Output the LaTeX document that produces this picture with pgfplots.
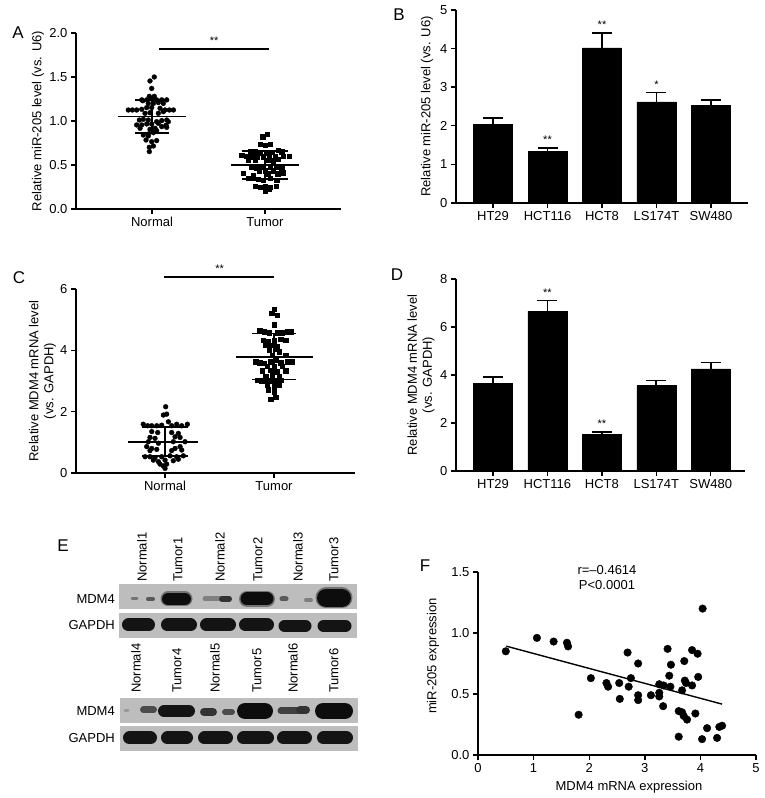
\documentclass[border=0pt]{standalone}
\usepackage{pgfplots}
\pgfplotsset{compat=1.18}
\usepackage{fontspec}
\setmainfont{Liberation Sans}
\newcommand{\fs}{\fontsize{13}{15}\selectfont}
\newcommand{\ls}{\fontsize{17}{20}\selectfont}
\tikzset{sigstar/.style={font=\fontsize{11}{12}\selectfont, anchor=south, inner sep=0pt, yshift=4pt}}
\pgfplotsset{
  panel/.style={
    scale only axis, anchor=south west, axis lines=left,
    axis line style={-, line width=1.4pt, black},
    tick align=outside, major tick length=5pt, tick style={line width=1.4pt, black},
    enlargelimits=false, clip=false,
    tick label style={font=\fs}, label style={font=\fs, align=center},
    /pgf/number format/assume math mode=true,
  },
  onedec/.style={yticklabel style={/pgf/number format/.cd, fixed, fixed zerofill, precision=1}},
  ebar/.style={ybar, bar width=39pt, bar shift=0pt, fill=black, draw=black,
    error bars/.cd, y dir=plus, y explicit,
    error bar style={line width=1.6pt, black},
    error mark options={rotate=90, line width=1.6pt, mark size=10pt, black}},
  stat/.style={black, line width=1.7pt, no marks, forget plot},
  band/.style={line cap=round, no marks, forget plot},
}
\begin{document}
\begin{tikzpicture}
\path[use as bounding box] (0pt,0pt) rectangle (765pt,798pt);

% ---------------- Panel A ----------------
\begin{axis}[panel, onedec, at={(76pt,589pt)}, width=265pt, height=176pt,
  xmin=0.327, xmax=2.673, ymin=0, ymax=2, xtick={1,2}, xticklabels={Normal,Tumor},
  ytick={0,0.5,1,1.5,2},
  ylabel={Relative miR-205 level (vs. U6)},
  ylabel style={at={(axis description cs:-0.143,0.5)}, anchor=center}]
\addplot[only marks, mark=*, mark size=2.4pt, black] coordinates {
(1.02,1.50)(0.982,1.455)(0.997,1.37)(0.976,1.28)(1.02,1.28)
(0.909,1.24)(0.918,1.23)(0.953,1.24)(0.997,1.25)(1.041,1.24)(1.086,1.24)(1.13,1.24)
(0.967,1.20)(1.012,1.20)(1.056,1.21)(1.10,1.20)
(0.79,1.125)(0.826,1.125)(0.864,1.125)(0.909,1.133)(0.953,1.152)(0.997,1.152)(1.071,1.144)(1.115,1.125)(1.153,1.125)(1.189,1.125)
(0.938,1.087)(0.982,1.094)(1.056,1.087)(1.10,1.106)
(0.888,1.011)(0.923,1.019)(0.967,1.011)(1.041,0.992)(1.086,1.004)(1.13,1.011)
(0.864,0.955)(0.909,0.955)(0.953,0.966)(0.997,0.966)(1.056,0.973)(1.124,0.951)(1.144,0.992)
(0.894,0.917)(0.982,0.905)(1.027,0.917)(1.086,0.936)(1.13,0.928)
(0.923,0.841)(0.967,0.852)(1.012,0.867)(1.041,0.89)
(0.947,0.784)(0.997,0.765)(1.041,0.777)(0.967,0.83)
(1.012,0.716)(0.976,0.701)(0.976,0.652)};
\addplot[only marks, mark=square*, mark size=2.2pt, black] coordinates {
(2.021,0.852)(1.98,0.822)
(1.956,0.735)(2.0,0.727)(2.044,0.735)
(1.867,0.651)(1.912,0.651)(1.956,0.640)(2.009,0.633)(2.059,0.645)(2.118,0.670)(2.147,0.651)
(1.794,0.614)(1.832,0.602)(1.882,0.595)(1.927,0.595)(1.985,0.595)(2.038,0.595)(2.088,0.595)(2.162,0.602)(2.215,0.602)
(1.852,0.557)(1.912,0.557)(2.029,0.557)(2.118,0.564)(2.074,0.550)
(1.882,0.473)(1.927,0.462)(1.98,0.473)(2.044,0.473)(2.097,0.473)(2.147,0.462)
(1.95,0.436)(2.0,0.436)(2.074,0.436)
(1.808,0.405)(1.897,0.386)(2.029,0.40)(2.112,0.40)(2.162,0.413)
(1.852,0.348)(1.891,0.348)(1.941,0.340)(1.985,0.330)(2.044,0.348)(2.103,0.330)
(1.912,0.261)(1.956,0.246)(2.0,0.261)(2.044,0.246)(2.097,0.261)
(2.0,0.205)(2.038,0.223)};
\addplot[stat] coordinates {(0.70,1.05)(1.30,1.05)};
\addplot[stat] coordinates {(0.85,1.24)(1.15,1.24)};
\addplot[stat] coordinates {(0.85,0.86)(1.15,0.86)};
\addplot[stat] coordinates {(1,0.86)(1,1.24)};
\addplot[stat] coordinates {(1.70,0.50)(2.30,0.50)};
\addplot[stat] coordinates {(1.80,0.66)(2.20,0.66)};
\addplot[stat] coordinates {(1.80,0.34)(2.20,0.34)};
\addplot[stat] coordinates {(2,0.34)(2,0.66)};
\addplot[stat, line width=2pt] coordinates {(1.06,1.82)(2.035,1.82)};
\node[sigstar] at (axis cs:1.55,1.82) {**};
\end{axis}

% ---------------- Panel B ----------------
\begin{axis}[panel, at={(456pt,595pt)}, width=292pt, height=193pt,
  xmin=-0.68, xmax=4.68, ymin=0, ymax=5, xtick={0,1,2,3,4},
  xticklabels={HT29,HCT116,HCT8,LS174T,SW480}, ytick={0,1,2,3,4,5},
  ylabel={Relative miR-205 level (vs. U6)},
  ylabel style={at={(axis description cs:-0.099,0.5)}, anchor=center}]
\addplot[ebar] coordinates {(0,2.03) +- (0,0.17) (1,1.33) +- (0,0.10) (2,4.02) +- (0,0.38) (3,2.62) +- (0,0.24) (4,2.53) +- (0,0.14)};
\node[sigstar] at (axis cs:1,1.43) {**};
\node[sigstar] at (axis cs:2,4.40) {**};
\node[sigstar] at (axis cs:3,2.86) {*};
\end{axis}

% ---------------- Panel C ----------------
\begin{axis}[panel, at={(76pt,325pt)}, width=279pt, height=184pt,
  xmin=0.183, xmax=2.743, ymin=0, ymax=6, xtick={1,2}, xticklabels={Normal,Tumor},
  ytick={0,2,4,6},
  ylabel={Relative MDM4 mRNA level\\(vs. GAPDH)},
  ylabel style={at={(axis description cs:-0.120,0.5)}, anchor=center}]
\addplot[only marks, mark=*, mark size=2.4pt, black] coordinates {
(1.006,2.16)(0.985,1.89)(1.015,1.92)(1.031,1.67)
(0.80,1.59)(0.841,1.54)(0.878,1.54)(0.924,1.54)(0.969,1.56)(1.061,1.54)(1.107,1.59)(1.153,1.54)(1.205,1.59)
(0.878,1.35)(0.933,1.32)(1.061,1.32)(1.122,1.29)
(0.862,1.16)(0.908,1.13)(1.092,1.18)(1.138,1.16)
(0.847,1.02)(0.939,0.97)(1.076,1.02)(1.183,1.02)
(0.832,0.86)(0.878,0.80)(0.924,0.77)(1.092,0.80)(1.138,0.86)
(0.862,0.73)(1.061,0.73)(1.153,0.75)
(0.817,0.53)(0.862,0.53)(0.908,0.50)(0.969,0.53)(1.046,0.56)(1.107,0.53)(1.168,0.56)
(0.893,0.42)(0.939,0.37)(1.0,0.42)(1.076,0.40)(1.122,0.45)
(0.954,0.29)(1.015,0.29)(0.985,0.23)(1.0,0.15)};
\addplot[only marks, mark=square*, mark size=2.2pt, black] coordinates {
(2.0,5.34)(1.979,5.21)(2.031,5.15)(2.0,4.83)
(1.868,4.64)(1.908,4.61)(1.954,4.57)(2.031,4.57)(2.076,4.58)(2.122,4.61)(2.153,4.61)
(1.899,4.34)(1.948,4.28)(2.0,4.31)(2.061,4.36)(2.107,4.34)
(1.917,4.17)(1.969,4.17)(2.031,4.12)
(1.954,4.01)(2.015,4.03)(2.046,3.95)
(1.985,3.85)(2.107,3.85)
(1.832,3.63)(1.868,3.60)(1.908,3.58)(1.969,3.63)(2.015,3.68)(2.061,3.60)(2.122,3.63)(2.168,3.63)
(1.939,3.49)(2.0,3.47)(2.076,3.49)
(1.893,3.33)(1.969,3.35)(2.031,3.30)(2.107,3.33)
(1.924,3.16)(1.985,3.20)(2.046,3.16)
(1.847,3.03)(1.887,3.01)(1.924,3.03)(1.969,3.01)(2.015,3.01)(2.061,3.03)
(1.939,2.87)(2.0,2.84)(2.046,2.87)
(1.948,2.71)(2.0,2.65)
(1.969,2.40)(2.015,2.47)};
\addplot[stat] coordinates {(0.66,1.02)(1.30,1.02)};
\addplot[stat] coordinates {(0.79,1.50)(1.21,1.50)};
\addplot[stat] coordinates {(0.79,0.55)(1.21,0.55)};
\addplot[stat] coordinates {(1,0.55)(1,1.50)};
\addplot[stat] coordinates {(1.65,3.78)(2.36,3.78)};
\addplot[stat] coordinates {(1.80,4.55)(2.20,4.55)};
\addplot[stat] coordinates {(1.80,3.05)(2.20,3.05)};
\addplot[stat] coordinates {(2,3.05)(2,4.55)};
\addplot[stat, line width=2pt] coordinates {(0.99,6.39)(2.0,6.39)};
\node[sigstar] at (axis cs:1.5,6.39) {**};
\end{axis}

% ---------------- Panel D ----------------
\begin{axis}[panel, at={(456pt,327pt)}, width=289pt, height=192pt,
  xmin=-0.68, xmax=4.63, ymin=0, ymax=8, xtick={0,1,2,3,4},
  xticklabels={HT29,HCT116,HCT8,LS174T,SW480}, ytick={0,2,4,6,8},
  ylabel={Relative MDM4 mRNA level\\(vs. GAPDH)},
  ylabel style={at={(axis description cs:-0.121,0.5)}, anchor=center}]
\addplot[ebar] coordinates {(0,3.66) +- (0,0.25) (1,6.65) +- (0,0.45) (2,1.54) +- (0,0.09) (3,3.56) +- (0,0.21) (4,4.26) +- (0,0.26)};
\node[sigstar] at (axis cs:1,7.10) {**};
\node[sigstar] at (axis cs:2,1.63) {**};
\end{axis}

% ---------------- Panel F ----------------
\begin{axis}[panel, onedec, at={(478pt,43pt)}, width=278pt, height=183pt,
  xmin=0, xmax=5, ymin=0, ymax=1.5, xtick={0,1,2,3,4,5}, ytick={0,0.5,1,1.5},
  ylabel={miR-205 expression},
  ylabel style={at={(axis description cs:-0.162,0.54)}, anchor=center},
  xlabel={MDM4 mRNA expression},
  xlabel style={at={(axis description cs:0.543,-0.175)}, anchor=center}]
\addplot[only marks, mark=*, mark size=3.8pt, black] coordinates {
(0.50,0.85)(1.06,0.96)(1.36,0.93)(1.60,0.92)(1.62,0.89)(1.81,0.33)(2.03,0.63)
(2.31,0.59)(2.34,0.56)(2.54,0.59)(2.55,0.46)(2.69,0.84)(2.71,0.56)(2.75,0.63)
(2.88,0.75)(2.88,0.49)(2.88,0.45)(3.11,0.49)(3.26,0.58)(3.26,0.51)(3.26,0.48)
(3.33,0.40)(3.34,0.57)(3.41,0.87)(3.44,0.65)(3.46,0.56)(3.47,0.74)(3.61,0.15)
(3.61,0.36)(3.67,0.53)(3.67,0.35)(3.70,0.32)(3.71,0.77)(3.72,0.61)(3.74,0.59)
(3.76,0.29)(3.85,0.57)(3.85,0.86)(3.91,0.34)(3.95,0.83)(3.96,0.64)(4.03,0.13)
(4.04,1.20)(4.12,0.22)(4.30,0.14)(4.34,0.23)(4.39,0.24)};
\addplot[black, line width=1.4pt, no marks] coordinates {(0.51,0.892)(4.39,0.417)};
\node[font=\fs] at (axis cs:2.32,1.52) {r=–0.4614};
\node[font=\fs] at (axis cs:2.32,1.39) {P<0.0001};
\end{axis}

% ---------------- Panel E (western blot) ----------------
\begin{axis}[at={(0pt,0pt)}, anchor=south west, scale only axis, width=765pt, height=798pt,
  xmin=0, xmax=765, ymin=0, ymax=798, hide axis, clip=false]
% membranes
\addplot[line width=25pt, color=gray!52, no marks] coordinates {(119,201.5)(357,201.5)};
\addplot[line width=25pt, color=gray!52, no marks] coordinates {(119,172.5)(357,172.5)};
\addplot[line width=25pt, color=gray!52, no marks] coordinates {(120,87.5)(358,87.5)};
\addplot[line width=25pt, color=gray!52, no marks] coordinates {(120,59.5)(358,59.5)};
% top MDM4
\addplot[band, line width=3pt, black!55] coordinates {(132,199)(137,199)};
\addplot[band, line width=4pt, black!65] coordinates {(148,199)(153,199)};
\addplot[band, line width=15pt, black!55] coordinates {(168,199)(185,199)};
\addplot[band, line width=12pt, black!95] coordinates {(168,199)(185,199)};
\addplot[band, line width=5pt, black!50] coordinates {(205,199)(229,199)};
\addplot[band, line width=6pt, black!80] coordinates {(222,199)(229,199)};
\addplot[band, line width=16pt, black!55] coordinates {(247,199)(267,199)};
\addplot[band, line width=13pt, black!95] coordinates {(247,199)(267,199)};
\addplot[band, line width=5pt, black!65] coordinates {(282,199)(286,199)};
\addplot[band, line width=4pt, black!50] coordinates {(306,198)(311,198)};
\addplot[band, line width=21pt, black!55] coordinates {(326,200)(342,200)};
\addplot[band, line width=18pt, black!95] coordinates {(326,200)(342,200)};
% top GAPDH
\addplot[band, line width=13pt, black!92] coordinates {(128.5,173)(148.5,173)};
\addplot[band, line width=13pt, black!92] coordinates {(167.5,173)(190.5,173)};
\addplot[band, line width=13pt, black!92] coordinates {(206.5,173)(229.5,173)};
\addplot[band, line width=13pt, black!92] coordinates {(245.5,173)(267.5,173)};
\addplot[band, line width=12pt, black!92] coordinates {(284.5,172)(305.5,172)};
\addplot[band, line width=12pt, black!92] coordinates {(323.5,172)(345.5,172)};
% bottom MDM4
\addplot[band, line width=3pt, black!40] coordinates {(125,87)(128,87)};
\addplot[band, line width=7pt, black!70] coordinates {(143.5,88)(153.5,88)};
\addplot[band, line width=12pt, black!92] coordinates {(164,87)(189,87)};
\addplot[band, line width=8pt, black!80] coordinates {(204,86)(213,86)};
\addplot[band, line width=6pt, black!70] coordinates {(225,86)(232,86)};
\addplot[band, line width=16pt, black!95] coordinates {(245,87)(265,87)};
\addplot[band, line width=7pt, black!75] coordinates {(281,87)(298,87)};
\addplot[band, line width=8pt, black!80] coordinates {(300,88)(306,88)};
\addplot[band, line width=16pt, black!95] coordinates {(323,87)(345,87)};
% bottom GAPDH
\addplot[band, line width=13pt, black!92] coordinates {(129.5,60)(150.5,60)};
\addplot[band, line width=13pt, black!92] coordinates {(167.5,60)(186.5,60)};
\addplot[band, line width=13pt, black!92] coordinates {(204.5,60)(226.5,60)};
\addplot[band, line width=13pt, black!92] coordinates {(243.5,60)(267.5,60)};
\addplot[band, line width=13pt, black!92] coordinates {(283.5,60)(305.5,60)};
\addplot[band, line width=13pt, black!92] coordinates {(323.5,60)(346.5,60)};
% row labels
\node[font=\fs, anchor=east, inner sep=0pt] at (axis cs:115,199) {MDM4};
\node[font=\fs, anchor=east, inner sep=0pt] at (axis cs:115,173) {GAPDH};
\node[font=\fs, anchor=east, inner sep=0pt] at (axis cs:115,87) {MDM4};
\node[font=\fs, anchor=east, inner sep=0pt] at (axis cs:115,60) {GAPDH};
% lane labels
\node[font=\fs, rotate=90, anchor=west, inner sep=0pt] at (axis cs:142,216) {Normal1};
\node[font=\fs, rotate=90, anchor=west, inner sep=0pt] at (axis cs:178,216) {Tumor1};
\node[font=\fs, rotate=90, anchor=west, inner sep=0pt] at (axis cs:220,216) {Normal2};
\node[font=\fs, rotate=90, anchor=west, inner sep=0pt] at (axis cs:258,216) {Tumor2};
\node[font=\fs, rotate=90, anchor=west, inner sep=0pt] at (axis cs:298,216) {Normal3};
\node[font=\fs, rotate=90, anchor=west, inner sep=0pt] at (axis cs:334,216) {Tumor3};
\node[font=\fs, rotate=90, anchor=west, inner sep=0pt] at (axis cs:136,105) {Normal4};
\node[font=\fs, rotate=90, anchor=west, inner sep=0pt] at (axis cs:177,105) {Tumor4};
\node[font=\fs, rotate=90, anchor=west, inner sep=0pt] at (axis cs:215,105) {Normal5};
\node[font=\fs, rotate=90, anchor=west, inner sep=0pt] at (axis cs:257,105) {Tumor5};
\node[font=\fs, rotate=90, anchor=west, inner sep=0pt] at (axis cs:293,105) {Normal6};
\node[font=\fs, rotate=90, anchor=west, inner sep=0pt] at (axis cs:334,105) {Tumor6};
\end{axis}

% panel letters
\node[font=\ls] at (18pt,765pt) {A};
\node[font=\ls] at (399pt,783pt) {B};
\node[font=\ls] at (19pt,520pt) {C};
\node[font=\ls] at (397pt,523pt) {D};
\node[font=\ls] at (63pt,252pt) {E};
\node[font=\ls] at (425pt,232pt) {F};
\end{tikzpicture}
\end{document}
